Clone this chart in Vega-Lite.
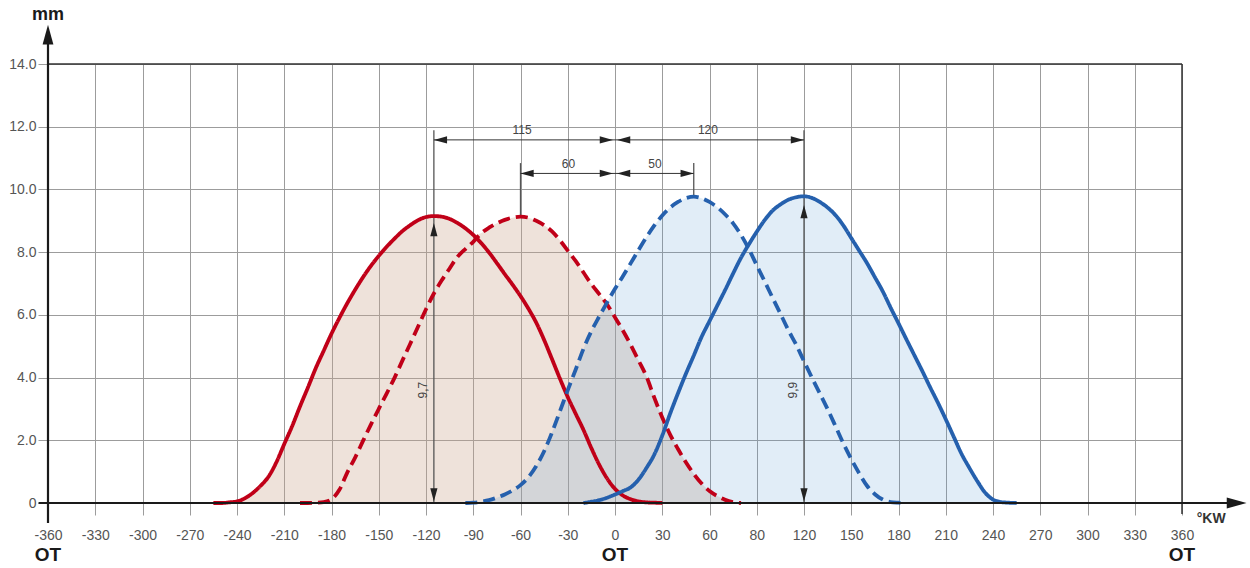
{
  "$schema": "https://vega.github.io/schema/vega-lite/v6.json",
  "width": 1134,
  "height": 439,
  "autosize": "none",
  "padding": {"left": 48, "top": 64, "right": 68, "bottom": 65},
  "config": {"view": {"stroke": null}, "font": "Liberation Sans"},
  "datasets": {
    "curves": [
      {"c":"rs","x":-255,"y":0},{"c":"rs","x":-250,"y":0},{"c":"rs","x":-245,"y":0.02},{"c":"rs","x":-240,"y":0.05},{"c":"rs","x":-235,"y":0.15},{"c":"rs","x":-230,"y":0.32},{"c":"rs","x":-225,"y":0.55},{"c":"rs","x":-220,"y":0.84},{"c":"rs","x":-215,"y":1.3},{"c":"rs","x":-210,"y":1.88},{"c":"rs","x":-205,"y":2.45},{"c":"rs","x":-200,"y":3.08},{"c":"rs","x":-195,"y":3.68},{"c":"rs","x":-190,"y":4.3},{"c":"rs","x":-185,"y":4.85},{"c":"rs","x":-180,"y":5.4},{"c":"rs","x":-175,"y":5.9},{"c":"rs","x":-170,"y":6.37},{"c":"rs","x":-165,"y":6.8},{"c":"rs","x":-160,"y":7.2},{"c":"rs","x":-155,"y":7.56},{"c":"rs","x":-150,"y":7.88},{"c":"rs","x":-145,"y":8.17},{"c":"rs","x":-140,"y":8.43},{"c":"rs","x":-135,"y":8.67},{"c":"rs","x":-130,"y":8.86},{"c":"rs","x":-125,"y":9.02},{"c":"rs","x":-120,"y":9.12},{"c":"rs","x":-115,"y":9.15},{"c":"rs","x":-110,"y":9.13},{"c":"rs","x":-105,"y":9.06},{"c":"rs","x":-100,"y":8.93},{"c":"rs","x":-95,"y":8.76},{"c":"rs","x":-90,"y":8.55},{"c":"rs","x":-85,"y":8.29},{"c":"rs","x":-80,"y":7.99},{"c":"rs","x":-75,"y":7.65},{"c":"rs","x":-70,"y":7.3},{"c":"rs","x":-65,"y":6.96},{"c":"rs","x":-60,"y":6.6},{"c":"rs","x":-55,"y":6.2},{"c":"rs","x":-50,"y":5.75},{"c":"rs","x":-45,"y":5.2},{"c":"rs","x":-40,"y":4.59},{"c":"rs","x":-35,"y":3.97},{"c":"rs","x":-30,"y":3.38},{"c":"rs","x":-25,"y":2.85},{"c":"rs","x":-20,"y":2.33},{"c":"rs","x":-15,"y":1.75},{"c":"rs","x":-10,"y":1.22},{"c":"rs","x":-5,"y":0.78},{"c":"rs","x":0,"y":0.45},{"c":"rs","x":5,"y":0.24},{"c":"rs","x":10,"y":0.12},{"c":"rs","x":15,"y":0.05},{"c":"rs","x":20,"y":0.02},{"c":"rs","x":25,"y":0.01},{"c":"rs","x":30,"y":0},
      {"c":"rd","x":-200,"y":0},{"c":"rd","x":-195,"y":0},{"c":"rd","x":-190,"y":0.01},{"c":"rd","x":-185,"y":0.03},{"c":"rd","x":-180,"y":0.12},{"c":"rd","x":-175,"y":0.42},{"c":"rd","x":-170,"y":0.97},{"c":"rd","x":-165,"y":1.45},{"c":"rd","x":-160,"y":1.98},{"c":"rd","x":-155,"y":2.5},{"c":"rd","x":-150,"y":3.0},{"c":"rd","x":-145,"y":3.49},{"c":"rd","x":-140,"y":3.99},{"c":"rd","x":-135,"y":4.54},{"c":"rd","x":-130,"y":5.08},{"c":"rd","x":-125,"y":5.63},{"c":"rd","x":-120,"y":6.18},{"c":"rd","x":-115,"y":6.68},{"c":"rd","x":-110,"y":7.1},{"c":"rd","x":-105,"y":7.48},{"c":"rd","x":-100,"y":7.85},{"c":"rd","x":-95,"y":8.1},{"c":"rd","x":-90,"y":8.33},{"c":"rd","x":-85,"y":8.6},{"c":"rd","x":-80,"y":8.78},{"c":"rd","x":-75,"y":8.92},{"c":"rd","x":-70,"y":9.03},{"c":"rd","x":-65,"y":9.1},{"c":"rd","x":-60,"y":9.13},{"c":"rd","x":-55,"y":9.1},{"c":"rd","x":-50,"y":9.0},{"c":"rd","x":-45,"y":8.86},{"c":"rd","x":-40,"y":8.66},{"c":"rd","x":-35,"y":8.38},{"c":"rd","x":-30,"y":8.05},{"c":"rd","x":-25,"y":7.72},{"c":"rd","x":-20,"y":7.35},{"c":"rd","x":-15,"y":6.98},{"c":"rd","x":-10,"y":6.66},{"c":"rd","x":-5,"y":6.33},{"c":"rd","x":0,"y":5.92},{"c":"rd","x":5,"y":5.5},{"c":"rd","x":10,"y":5.04},{"c":"rd","x":15,"y":4.54},{"c":"rd","x":20,"y":4.03},{"c":"rd","x":25,"y":3.35},{"c":"rd","x":30,"y":2.73},{"c":"rd","x":35,"y":2.18},{"c":"rd","x":40,"y":1.72},{"c":"rd","x":45,"y":1.3},{"c":"rd","x":50,"y":0.93},{"c":"rd","x":55,"y":0.62},{"c":"rd","x":60,"y":0.38},{"c":"rd","x":65,"y":0.22},{"c":"rd","x":70,"y":0.1},{"c":"rd","x":75,"y":0.03},{"c":"rd","x":80,"y":0},
      {"c":"bd","x":-95,"y":0},{"c":"bd","x":-90,"y":0.01},{"c":"bd","x":-85,"y":0.04},{"c":"bd","x":-80,"y":0.09},{"c":"bd","x":-75,"y":0.17},{"c":"bd","x":-70,"y":0.27},{"c":"bd","x":-65,"y":0.4},{"c":"bd","x":-60,"y":0.57},{"c":"bd","x":-55,"y":0.82},{"c":"bd","x":-50,"y":1.18},{"c":"bd","x":-45,"y":1.65},{"c":"bd","x":-40,"y":2.25},{"c":"bd","x":-35,"y":2.92},{"c":"bd","x":-30,"y":3.6},{"c":"bd","x":-25,"y":4.25},{"c":"bd","x":-20,"y":4.92},{"c":"bd","x":-15,"y":5.48},{"c":"bd","x":-10,"y":5.95},{"c":"bd","x":-5,"y":6.4},{"c":"bd","x":0,"y":6.83},{"c":"bd","x":5,"y":7.23},{"c":"bd","x":10,"y":7.65},{"c":"bd","x":15,"y":8.07},{"c":"bd","x":20,"y":8.48},{"c":"bd","x":25,"y":8.85},{"c":"bd","x":30,"y":9.17},{"c":"bd","x":35,"y":9.42},{"c":"bd","x":40,"y":9.6},{"c":"bd","x":45,"y":9.72},{"c":"bd","x":50,"y":9.77},{"c":"bd","x":55,"y":9.72},{"c":"bd","x":60,"y":9.6},{"c":"bd","x":65,"y":9.43},{"c":"bd","x":70,"y":9.2},{"c":"bd","x":75,"y":8.92},{"c":"bd","x":80,"y":8.55},{"c":"bd","x":85,"y":8.1},{"c":"bd","x":90,"y":7.58},{"c":"bd","x":95,"y":7.07},{"c":"bd","x":100,"y":6.55},{"c":"bd","x":105,"y":6.04},{"c":"bd","x":110,"y":5.52},{"c":"bd","x":115,"y":5.05},{"c":"bd","x":120,"y":4.52},{"c":"bd","x":125,"y":4.0},{"c":"bd","x":130,"y":3.5},{"c":"bd","x":135,"y":2.99},{"c":"bd","x":140,"y":2.45},{"c":"bd","x":145,"y":1.9},{"c":"bd","x":150,"y":1.4},{"c":"bd","x":155,"y":0.95},{"c":"bd","x":160,"y":0.55},{"c":"bd","x":165,"y":0.28},{"c":"bd","x":170,"y":0.11},{"c":"bd","x":175,"y":0.03},{"c":"bd","x":180,"y":0.01},{"c":"bd","x":185,"y":0},
      {"c":"bs","x":-20,"y":0},{"c":"bs","x":-15,"y":0.04},{"c":"bs","x":-10,"y":0.09},{"c":"bs","x":-5,"y":0.17},{"c":"bs","x":0,"y":0.27},{"c":"bs","x":5,"y":0.38},{"c":"bs","x":10,"y":0.5},{"c":"bs","x":15,"y":0.75},{"c":"bs","x":20,"y":1.12},{"c":"bs","x":25,"y":1.55},{"c":"bs","x":30,"y":2.15},{"c":"bs","x":35,"y":2.85},{"c":"bs","x":40,"y":3.5},{"c":"bs","x":45,"y":4.12},{"c":"bs","x":50,"y":4.7},{"c":"bs","x":55,"y":5.3},{"c":"bs","x":60,"y":5.8},{"c":"bs","x":65,"y":6.3},{"c":"bs","x":70,"y":6.8},{"c":"bs","x":75,"y":7.32},{"c":"bs","x":80,"y":7.82},{"c":"bs","x":85,"y":8.25},{"c":"bs","x":90,"y":8.65},{"c":"bs","x":95,"y":9.02},{"c":"bs","x":100,"y":9.32},{"c":"bs","x":105,"y":9.52},{"c":"bs","x":110,"y":9.67},{"c":"bs","x":115,"y":9.75},{"c":"bs","x":120,"y":9.78},{"c":"bs","x":125,"y":9.73},{"c":"bs","x":130,"y":9.6},{"c":"bs","x":135,"y":9.42},{"c":"bs","x":140,"y":9.18},{"c":"bs","x":145,"y":8.85},{"c":"bs","x":150,"y":8.45},{"c":"bs","x":155,"y":8.05},{"c":"bs","x":160,"y":7.65},{"c":"bs","x":165,"y":7.2},{"c":"bs","x":170,"y":6.75},{"c":"bs","x":175,"y":6.23},{"c":"bs","x":180,"y":5.73},{"c":"bs","x":185,"y":5.22},{"c":"bs","x":190,"y":4.72},{"c":"bs","x":195,"y":4.22},{"c":"bs","x":200,"y":3.7},{"c":"bs","x":205,"y":3.2},{"c":"bs","x":210,"y":2.67},{"c":"bs","x":215,"y":2.12},{"c":"bs","x":220,"y":1.57},{"c":"bs","x":225,"y":1.12},{"c":"bs","x":230,"y":0.7},{"c":"bs","x":235,"y":0.33},{"c":"bs","x":240,"y":0.11},{"c":"bs","x":245,"y":0.03},{"c":"bs","x":250,"y":0.01},{"c":"bs","x":255,"y":0}
    ],
    "rules": [
      {"k":"axis","x":-360,"y":-0.64,"x2":-360,"y2":15.0},
      {"k":"axis","x":-366,"y":0,"x2":392,"y2":0},
      {"k":"frame","x":-360,"y":14,"x2":360,"y2":14},
      {"k":"frame","x":360,"y":-0.35,"x2":360,"y2":14},
      {"k":"dim","x":-115,"y":11.58,"x2":120,"y2":11.58},
      {"k":"dim","x":-60,"y":10.51,"x2":50,"y2":10.51},
      {"k":"ext","x":-115,"y":11.89,"x2":-115,"y2":0},
      {"k":"ext","x":120,"y":11.89,"x2":120,"y2":0},
      {"k":"ext","x":-60,"y":10.84,"x2":-60,"y2":9.13},
      {"k":"ext","x":50,"y":10.84,"x2":50,"y2":9.8}
    ],
    "heads": [
      {"k":"small","d":"l","x":-115,"y":11.58},
      {"k":"small","d":"r","x":-1.3,"y":11.58},
      {"k":"small","d":"l","x":1.3,"y":11.58},
      {"k":"small","d":"r","x":120,"y":11.58},
      {"k":"small","d":"l","x":-60,"y":10.51},
      {"k":"small","d":"r","x":-1.3,"y":10.51},
      {"k":"small","d":"l","x":1.3,"y":10.51},
      {"k":"small","d":"r","x":50,"y":10.51},
      {"k":"small","d":"u","x":-115,"y":8.93},
      {"k":"small","d":"d","x":-115,"y":0.05},
      {"k":"small","d":"u","x":120,"y":9.5},
      {"k":"small","d":"d","x":120,"y":0.05},
      {"k":"big","d":"u","x":-360,"y":15.25},
      {"k":"big","d":"r","x":401,"y":0}
    ],
    "texts": [
      {"k":"dim","t":"115","x":-59,"y":11.9},
      {"k":"dim","t":"120","x":59,"y":11.9},
      {"k":"dim","t":"60","x":-29.6,"y":10.8},
      {"k":"dim","t":"50","x":25.4,"y":10.8},
      {"k":"rot","t":"9,7","x":-122,"y":3.6},
      {"k":"rot","t":"9,9","x":113,"y":3.6},
      {"k":"ot","t":"OT","x":-360,"y":-1.66},
      {"k":"ot","t":"OT","x":0,"y":-1.66},
      {"k":"ot","t":"OT","x":360,"y":-1.66},
      {"k":"mm","t":"mm","x":-360,"y":15.55},
      {"k":"kw","t":"°KW","x":378.5,"y":-0.51}
    ]
  },
  "encoding": {
    "x": {"field":"x","type":"quantitative","title":null,
      "scale":{"domain":[-360,360],"nice":false,"zero":false},
      "axis":{"values":[-360,-330,-300,-270,-240,-210,-180,-150,-120,-90,-60,-30,0,30,60,90,120,150,180,210,240,270,300,330,360],
        "labelExpr":"datum.value == 90 ? '80' : '' + datum.value",
        "domain":false,"grid":true,"gridColor":"#9c9c9c","gridWidth":1,
        "ticks":true,"tickColor":"#9c9c9c","tickSize":12,"labelPadding":13,
        "labelFont":"Liberation Sans","labelFontSize":14,"labelColor":"#555555","labelOverlap":false,"labelFlush":false}},
    "y": {"field":"y","type":"quantitative","title":null,
      "scale":{"domain":[0,14],"nice":false,"zero":false},
      "axis":{"values":[0,2,4,6,8,10,12,14],
        "labelExpr":"datum.value == 0 ? '0' : format(datum.value, '.1f')",
        "domain":false,"grid":true,"gridColor":"#9c9c9c","gridWidth":1,
        "ticks":true,"tickColor":"#9c9c9c","tickSize":10,"labelPadding":2,
        "labelFont":"Liberation Sans","labelFontSize":14,"labelColor":"#555555"}}
  },
  "layer": [
    {
      "data": {"name":"curves"},
      "transform": [
        {"filter": {"field":"c","oneOf":["rs","rd"]}},
        {"aggregate":[{"op":"max","field":"y","as":"y"}],"groupby":["x"]}
      ],
      "mark": {"type":"area","interpolate":"monotone","color":"#c9a58c","opacity":0.32}
    },
    {
      "data": {"name":"curves"},
      "transform": [
        {"filter": {"field":"c","oneOf":["bd","bs"]}},
        {"aggregate":[{"op":"max","field":"y","as":"y"}],"groupby":["x"]}
      ],
      "mark": {"type":"area","interpolate":"monotone","color":"#5b9bd5","opacity":0.18}
    },
    {
      "data": {"name":"rules"},
      "transform": [{"filter":"datum.k == 'ext'"}],
      "mark": {"type":"rule","color":"#555555","strokeWidth":1.3},
      "encoding": {"x2":{"field":"x2"},"y2":{"field":"y2"}}
    },
    {
      "data": {"name":"rules"},
      "transform": [{"filter":"datum.k == 'dim'"}],
      "mark": {"type":"rule","color":"#333333","strokeWidth":1},
      "encoding": {"x2":{"field":"x2"},"y2":{"field":"y2"}}
    },
    {
      "data": {"name":"curves"},
      "mark": {"type":"line","interpolate":"monotone","strokeWidth":3.8,"strokeCap":"butt"},
      "encoding": {
        "detail": {"field":"c"},
        "color": {"field":"c","type":"nominal","legend":null,
          "scale":{"domain":["rs","rd","bd","bs"],"range":["#c00018","#c00018","#2560ad","#2560ad"]}},
        "strokeDash": {"field":"c","type":"nominal","legend":null,
          "scale":{"domain":["rs","rd","bd","bs"],"range":[[1,0],[12,6],[12,6],[1,0]]}},
        "order": {"field":"x","type":"quantitative"}
      }
    },
    {
      "data": {"name":"rules"},
      "transform": [{"filter":"datum.k == 'frame'"}],
      "mark": {"type":"rule","color":"#333333","strokeWidth":1.5},
      "encoding": {"x2":{"field":"x2"},"y2":{"field":"y2"}}
    },
    {
      "data": {"name":"rules"},
      "transform": [{"filter":"datum.k == 'axis'"}],
      "mark": {"type":"rule","color":"#1a1a1a","strokeWidth":2.2},
      "encoding": {"x2":{"field":"x2"},"y2":{"field":"y2"}}
    },
    {
      "data": {"name":"heads"},
      "transform": [{"filter":"datum.k == 'small'"}],
      "mark": {"type":"point","filled":true,"opacity":1,"color":"#222222","size":144,"strokeWidth":0},
      "encoding": {
        "shape": {"field":"d","type":"nominal","legend":null,
          "scale":{"domain":["u","d","l","r"],"range":["M0,0L0.6,2.2L-0.6,2.2Z","M0,0L0.6,-2.2L-0.6,-2.2Z","M0,0L2.2,0.6L2.2,-0.6Z","M0,0L-2.2,0.6L-2.2,-0.6Z"]}}
      }
    },
    {
      "data": {"name":"heads"},
      "transform": [{"filter":"datum.k == 'big'"}],
      "mark": {"type":"point","filled":true,"opacity":1,"color":"#1a1a1a","size":324,"strokeWidth":0},
      "encoding": {
        "shape": {"field":"d","type":"nominal","legend":null,
          "scale":{"domain":["u","d","l","r"],"range":["M0,0L0.6,2.2L-0.6,2.2Z","M0,0L0.6,-2.2L-0.6,-2.2Z","M0,0L2.2,0.6L2.2,-0.6Z","M0,0L-2.2,0.6L-2.2,-0.6Z"]}}
      }
    },
    {
      "data": {"name":"texts"},
      "transform": [{"filter":"datum.k == 'dim'"}],
      "mark": {"type":"text","font":"Liberation Sans","fontSize":12,"color":"#444444","baseline":"middle","align":"center"},
      "encoding": {"text":{"field":"t"}}
    },
    {
      "data": {"name":"texts"},
      "transform": [{"filter":"datum.k == 'rot'"}],
      "mark": {"type":"text","font":"Liberation Sans","fontSize":12,"color":"#444444","baseline":"middle","align":"center","angle":270},
      "encoding": {"text":{"field":"t"}}
    },
    {
      "data": {"name":"texts"},
      "transform": [{"filter":"datum.k == 'ot'"}],
      "mark": {"type":"text","font":"Liberation Sans","fontSize":19,"fontWeight":"bold","color":"#1a1a1a","baseline":"middle","align":"center"},
      "encoding": {"text":{"field":"t"}}
    },
    {
      "data": {"name":"texts"},
      "transform": [{"filter":"datum.k == 'mm'"}],
      "mark": {"type":"text","font":"Liberation Sans","fontSize":18,"fontWeight":"bold","color":"#1a1a1a","baseline":"middle","align":"center"},
      "encoding": {"text":{"field":"t"}}
    },
    {
      "data": {"name":"texts"},
      "transform": [{"filter":"datum.k == 'kw'"}],
      "mark": {"type":"text","font":"Liberation Sans","fontSize":14,"fontWeight":"bold","color":"#333333","baseline":"middle","align":"center"},
      "encoding": {"text":{"field":"t"}}
    }
  ]
}
